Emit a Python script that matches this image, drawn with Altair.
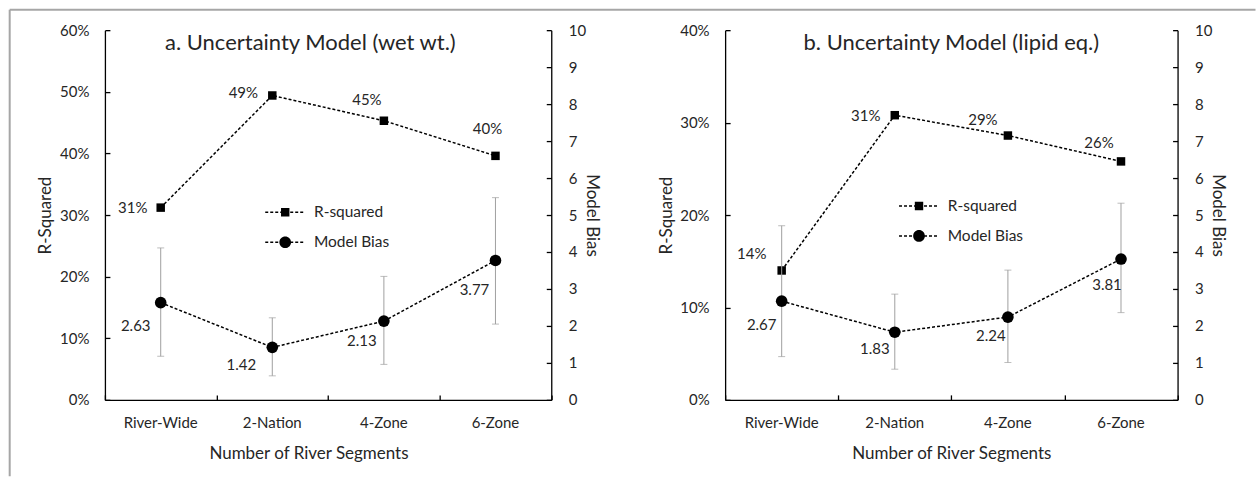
import altair as alt
import pandas as pd

# ---------------- data ----------------
categories = ["River-Wide", "2-Nation", "4-Zone", "6-Zone"]
series_names = ["R-squared", "Model Bias"]

title_a = "a. Uncertainty Model (wet wt.)"
rsq_a = [0.312, 0.494, 0.453, 0.396]
bias_a = [2.63, 1.42, 2.13, 3.77]
bias_lo_a = [1.18, 0.65, 0.96, 2.05]
bias_hi_a = [4.11, 2.22, 3.34, 5.47]

title_b = "b. Uncertainty Model (lipid eq.)"
rsq_b = [0.140, 0.308, 0.286, 0.258]
bias_b = [2.67, 1.83, 2.24, 3.81]
bias_lo_b = [1.17, 0.83, 1.01, 2.36]
bias_hi_b = [4.71, 2.86, 3.51, 5.32]

rsq_ticks_a = [0.0, 0.1, 0.2, 0.3, 0.4, 0.5, 0.6]
rsq_ticks_b = [0.0, 0.1, 0.2, 0.3, 0.4]
bias_ticks = [0, 1, 2, 3, 4, 5, 6, 7, 8, 9, 10]

# ---------------- style ----------------
FONT = "Lato"
TEXT = "#262626"
ERR = "#a0a0a0"
FRAME = "#a6a6a6"
H = 370

# label offsets (dx, dy) per category
off_r_a = [(-28, 0), (-29, -2), (-17, -21), (-8, -27)]
off_b_a = [(-25, 23), (-31, 18), (-22, 20), (-21, 30)]
off_r_b = [(-30, -16), (-29, 1), (-25, -16), (-22, -18)]
off_b_b = [(-20, 24), (-20, 17), (-17, 19), (-14, 26)]


def legend_path(marker):
    s = 5.0  # px per unit for symbolSize 100
    half_w = 20 / s
    t = 0.75 / s
    dash, gap = 3 / s, 2 / s
    parts = []
    x = -half_w
    while x < half_w - 1e-9:
        x1 = min(x + dash, half_w)
        parts.append(f"M{x:.3f},{-t:.3f}H{x1:.3f}V{t:.3f}H{x:.3f}Z")
        x += dash + gap
    if marker == "square":
        h = 4.2 / s
        parts.append(f"M{-h:.3f},{-h:.3f}H{h:.3f}V{h:.3f}H{-h:.3f}Z")
    else:
        r = 5.85 / s
        parts.append(f"M{-r:.3f},0A{r:.3f},{r:.3f} 0 1 1 {r:.3f},0A{r:.3f},{r:.3f} 0 1 1 {-r:.3f},0Z")
    return "".join(parts)


def inner_tick_axis(orient, offset, values=None, band=False):
    kw = dict(orient=orient, offset=offset, labels=False, domain=False, tickSize=5,
              tickColor="black", tickWidth=1.3, title=None, grid=False)
    if values is not None:
        kw["values"] = values
    if band:
        kw["tickBand"] = "extent"
    return alt.Axis(**kw)


def make_panel(title, rsq, bias, lo, hi, rmax, rticks, width, title_dx, xtitle_x,
               legend_x, legend_y, off_r, off_b, frame=False):
    df = pd.DataFrame({"category": categories, "rsq": rsq, "bias": bias, "lo": lo, "hi": hi})
    xscale = alt.Scale(domain=categories, paddingInner=0, paddingOuter=0)

    xaxis_kw = dict(title="Number of River Segments", orient="bottom", labelAngle=0,
                    ticks=False, domainColor="black", domainWidth=1.3,
                    labelFont=FONT, labelFontSize=15, labelColor=TEXT, labelPadding=16,
                    titleFont=FONT, titleFontSize=17, titleColor=TEXT, titleFontWeight="normal",
                    titlePadding=14, minExtent=32, maxExtent=32)
    if xtitle_x is not None:
        xaxis_kw["titleX"] = xtitle_x
    x_main = alt.X("category:N", sort=categories, scale=xscale, axis=alt.Axis(**xaxis_kw))
    x_plain = alt.X("category:N", sort=categories, scale=xscale, axis=None)

    axis_r = alt.Axis(orient="left", values=rticks, format=".0%", grid=False,
                      tickSize=5, tickOpacity=0,
                      domainColor="black", domainWidth=1.3,
                      labelFont=FONT, labelFontSize=15, labelColor=TEXT, labelPadding=11,
                      title="R-Squared", titleFont=FONT, titleFontSize=17, titleColor=TEXT,
                      titleFontWeight="normal", titlePadding=4, minExtent=46, maxExtent=46)
    axis_b = alt.Axis(orient="right", values=bias_ticks, format="d", grid=False,
                      tickSize=5, tickOpacity=0,
                      domainColor="black", domainWidth=1.3,
                      labelFont=FONT, labelFontSize=15, labelColor=TEXT, labelPadding=12,
                      title="Model Bias", titleFont=FONT, titleFontSize=17, titleColor=TEXT,
                      titleFontWeight="normal", titlePadding=3, minExtent=28, maxExtent=28)

    def scale_r():
        return alt.Scale(domain=[0, rmax])

    def scale_b():
        return alt.Scale(domain=[0, 10])

    def yr(field):
        return alt.Y(field, scale=scale_r(), axis=axis_r)

    def yb(field):
        return alt.Y(field, scale=scale_b(), axis=axis_b)

    # ---- R-squared group (left axis)
    baseA = alt.Chart(df).encode(x=x_main, y=yr("rsq:Q"))
    r_line = baseA.mark_line(color="black", strokeWidth=1.5, strokeDash=[3, 2])
    r_pts = baseA.mark_point(shape="square", filled=True, size=72, color="black", opacity=1)
    r_txt = [
        baseA.transform_filter(alt.datum.category == c)
        .mark_text(dx=dx, dy=dy, font=FONT, fontSize=15, color=TEXT)
        .encode(text=alt.Text("rsq:Q", format=".0%"))
        for c, (dx, dy) in zip(categories, off_r)
    ]
    legend_df = pd.DataFrame({"series": series_names})
    leg = alt.Chart(legend_df).mark_point(filled=True, opacity=0, color="black").encode(
        shape=alt.Shape(
            "series:N", sort=series_names,
            scale=alt.Scale(domain=series_names, range=[legend_path("square"), legend_path("circle")]),
            legend=alt.Legend(title=None, orient="none", legendX=legend_x, legendY=legend_y,
                              symbolSize=100, symbolFillColor="black", symbolStrokeWidth=0,
                              symbolOpacity=1, labelFont=FONT, labelFontSize=15.5,
                              labelColor=TEXT, labelOffset=21, rowPadding=13, padding=0),
        )
    )
    groupA = alt.layer(r_line, r_pts, *r_txt, leg)

    # ---- Model Bias group (right axis)
    baseB = alt.Chart(df).encode(x=x_plain)
    err = baseB.mark_rule(color=ERR, strokeWidth=1).encode(y=yb("lo:Q"), y2="hi:Q")
    cap_hi = baseB.mark_tick(color=ERR, thickness=1, size=7).encode(y=yb("hi:Q"))
    cap_lo = baseB.mark_tick(color=ERR, thickness=1, size=7).encode(y=yb("lo:Q"))
    b_line = baseB.mark_line(color="black", strokeWidth=1.5, strokeDash=[3, 2]).encode(y=yb("bias:Q"))
    b_pts = baseB.mark_point(shape="circle", filled=True, size=136, color="black", opacity=1).encode(y=yb("bias:Q"))
    b_txt = [
        baseB.transform_filter(alt.datum.category == c)
        .mark_text(dx=dx, dy=dy, font=FONT, fontSize=15, color=TEXT)
        .encode(y=yb("bias:Q"), text=alt.Text("bias:Q", format=".2f"))
        for c, (dx, dy) in zip(categories, off_b)
    ]
    groupB = alt.layer(err, cap_hi, cap_lo, b_line, b_pts, *b_txt)

    # ---- inward ticks (y left, y right, x bottom), drawn as extra axes
    ticksA = alt.Chart(df).mark_point(opacity=0).encode(
        x=x_plain,
        y=alt.Y("rsq:Q", scale=scale_r(), axis=inner_tick_axis("right", -width, values=rticks)),
    )
    ticksB = alt.Chart(df).mark_point(opacity=0).encode(
        x=x_plain,
        y=alt.Y("bias:Q", scale=scale_b(), axis=inner_tick_axis("left", -width, values=bias_ticks)),
    )
    tick_layer = alt.Chart(df).mark_point(opacity=0).encode(
        x=alt.X("category:N", sort=categories, scale=xscale,
                axis=inner_tick_axis("top", -H, band=True))
    )

    # ---- panel title (inside the plot area, as in the reference)
    fdf = pd.DataFrame({"k": [0]})
    title_layer = alt.Chart(fdf).mark_text(
        text=title, font=FONT, fontSize=22, color=TEXT, align="center", baseline="middle"
    ).encode(x=alt.value(width / 2 + title_dx), y=alt.value(12.5))

    layers = [groupA, groupB, ticksA, ticksB, tick_layer, title_layer]
    if frame:
        top_rule = alt.Chart(fdf).mark_rule(color=FRAME, strokeWidth=2).encode(
            x=alt.value(-95.3), x2=alt.value(1151.5), y=alt.value(-20.5))
        left_rule = alt.Chart(fdf).mark_rule(color=FRAME, strokeWidth=2).encode(
            x=alt.value(-95.3), y=alt.value(-20.5), y2=alt.value(446.5))
        layers += [top_rule, left_rule]

    return (
        alt.layer(*layers)
        .resolve_scale(y="independent")
        .resolve_axis(x="independent")
        .properties(width=width, height=H)
    )


panel_a = make_panel(title_a, rsq_a, bias_a, bias_lo_a, bias_hi_a, 0.6, rsq_ticks_a, 446.7,
                     -17.7, 203.7, 172.7, 174.5, off_r_a, off_b_a, frame=True)
panel_b = make_panel(title_b, rsq_b, bias_b, bias_lo_b, bias_hi_b, 0.4, rsq_ticks_b, 452.8,
                     0, None, 186.3, 168.2, off_r_b, off_b_b)

chart = (
    alt.hconcat(panel_a, panel_b, spacing=173.7, bounds="flush")
    .resolve_scale(shape="independent")
    .resolve_legend(shape="independent")
    .properties(padding={"left": 8, "top": 8, "right": 0, "bottom": 0}, background="white")
    .configure_view(stroke=None)
)

chart.save("out.html", embed_options={"renderer": "svg", "actions": False})
